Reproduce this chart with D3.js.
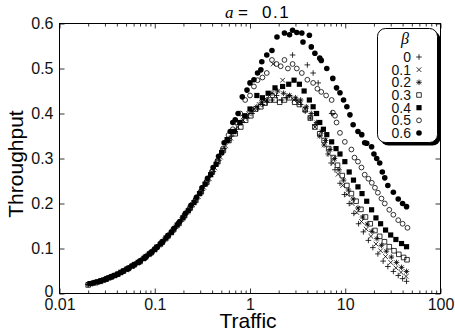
<!DOCTYPE html>
<html>
<head>
<meta charset="utf-8">
<script src="https://cdn.jsdelivr.net/npm/d3@7"></script>
<style>
  html, body { margin: 0; padding: 0; background: #fff; }
  svg { display: block; }
</style>
</head>
<body>
<script>
const WIDTH = 455;
const HEIGHT = 334;

const PLOT_LEFT = 59.5;
const PLOT_RIGHT = 440.5;
const PLOT_TOP = 23.5;
const PLOT_BOTTOM = 293.5;

const FONT = "'Liberation Sans', Arial, Helvetica, sans-serif";
const SERIF = "'Liberation Serif', 'DejaVu Serif', serif";

const MAJOR_TICK = 5;
const MINOR_TICK = 3;

// Legend geometry
const LEGEND_X = 377.5;
const LEGEND_Y = 28.5;
const LEGEND_W = 60;
const LEGEND_H = 114;
const LEGEND_SHADOW = 3;
const LEGEND_ROW0 = 57;
const LEGEND_ROW_GAP = 12.67;

// Data
const BETAS = ["0", "0.1", "0.2", "0.3", "0.4", "0.5", "0.6"];
const X_TICKS = [0.01, 0.1, 1, 10, 100];
const X_TICK_LABELS = ["0.01", "0.1", "1", "10", "100"];
const Y_TICKS = [0, 0.1, 0.2, 0.3, 0.4, 0.5, 0.6];
const Y_TICK_LABELS = ["0", "0.1", "0.2", "0.3", "0.4", "0.5", "0.6"];

// [traffic, throughput]
const BETA_0 = [
    [0.020, 0.020], [0.023, 0.024], [0.027, 0.028], [0.031, 0.033], [0.036, 0.038], [0.042, 0.044],
    [0.048, 0.051], [0.055, 0.058], [0.063, 0.065], [0.072, 0.073], [0.083, 0.083], [0.095, 0.094],
    [0.108, 0.105], [0.124, 0.117], [0.142, 0.131], [0.163, 0.145], [0.186, 0.160], [0.212, 0.176],
    [0.243, 0.192], [0.277, 0.210], [0.316, 0.229], [0.361, 0.250], [0.412, 0.271], [0.47, 0.296],
    [0.535, 0.322], [0.64, 0.350], [0.72, 0.365], [0.82, 0.380], [0.93, 0.390], [1.05, 0.400],
    [1.2, 0.410], [1.35, 0.420], [1.5, 0.425], [1.7, 0.430], [1.9, 0.440], [2.15, 0.430],
    [2.4, 0.435], [2.8, 0.530], [3.1, 0.430], [3.4, 0.420], [4.0, 0.508], [4.6, 0.490],
    [5.2, 0.468], [3.8, 0.405], [4.3, 0.390], [4.8, 0.375], [5.4, 0.350], [6.0, 0.330],
    [6.6, 0.310], [7.2, 0.400], [7.1, 0.290], [7.8, 0.275], [8.8, 0.245], [9.8, 0.220],
    [11, 0.200], [12.3, 0.178], [13.8, 0.155], [15.5, 0.137], [17.5, 0.118], [19.5, 0.102],
    [22, 0.088], [25, 0.072], [28, 0.060], [32, 0.049], [36, 0.040], [40, 0.033], [44, 0.027]
];

const BETA_01 = [
    [0.021, 0.021], [0.024, 0.025], [0.028, 0.029], [0.032, 0.034], [0.037, 0.039], [0.043, 0.045],
    [0.050, 0.053], [0.057, 0.060], [0.065, 0.067], [0.075, 0.076], [0.086, 0.086], [0.098, 0.096],
    [0.112, 0.108], [0.128, 0.120], [0.147, 0.134], [0.168, 0.148], [0.193, 0.164], [0.22, 0.181],
    [0.25, 0.197], [0.287, 0.215], [0.327, 0.236], [0.374, 0.255], [0.427, 0.279], [0.49, 0.303],
    [0.555, 0.328], [0.63, 0.345], [0.74, 0.370], [0.85, 0.385], [0.97, 0.400], [1.1, 0.410],
    [1.25, 0.420], [1.4, 0.430], [1.6, 0.440], [1.75, 0.510], [1.85, 0.440], [2.2, 0.474],
    [2.5, 0.440], [2.9, 0.430], [3.3, 0.425], [3.8, 0.410], [4.3, 0.390], [4.8, 0.370],
    [5.4, 0.350], [6.0, 0.330], [6.7, 0.310], [7.5, 0.290], [8.4, 0.265], [9.4, 0.240],
    [10.5, 0.220], [11.8, 0.200], [13.2, 0.180], [14.8, 0.160], [16.6, 0.143], [18.6, 0.127],
    [21, 0.110], [23.5, 0.095], [26.5, 0.082], [30, 0.069], [34, 0.057], [38.5, 0.047], [43.5, 0.038]
];

const BETA_02 = [
    [0.020, 0.021], [0.022, 0.023], [0.026, 0.027], [0.030, 0.032], [0.034, 0.036], [0.039, 0.042],
    [0.045, 0.048], [0.052, 0.055], [0.059, 0.062], [0.068, 0.070], [0.078, 0.079], [0.089, 0.089],
    [0.102, 0.100], [0.117, 0.112], [0.134, 0.125], [0.153, 0.139], [0.175, 0.154], [0.2, 0.169],
    [0.229, 0.186], [0.262, 0.203], [0.3, 0.222], [0.343, 0.243], [0.392, 0.265], [0.448, 0.289],
    [0.512, 0.315], [0.6, 0.340], [0.7, 0.360], [0.8, 0.380], [0.92, 0.395], [1.05, 0.405],
    [1.18, 0.415], [1.32, 0.425], [1.5, 0.430], [1.7, 0.445], [1.95, 0.450], [2.25, 0.445],
    [2.6, 0.440], [3.0, 0.435], [3.4, 0.430], [3.9, 0.415], [4.4, 0.400], [5.0, 0.380],
    [5.6, 0.360], [6.2, 0.340], [6.9, 0.320], [7.7, 0.300], [8.6, 0.275], [9.6, 0.252],
    [10.8, 0.230], [12.1, 0.210], [13.6, 0.190], [15.2, 0.170], [17, 0.154], [19, 0.138],
    [21.5, 0.122], [24, 0.107], [27, 0.094], [30.5, 0.081], [34.5, 0.069], [39, 0.058], [44, 0.049]
];

const BETA_03 = [
    [0.020, 0.019], [0.024, 0.024], [0.027, 0.027], [0.031, 0.032], [0.035, 0.037], [0.041, 0.043],
    [0.047, 0.050], [0.053, 0.056], [0.061, 0.064], [0.070, 0.071], [0.080, 0.081], [0.092, 0.091],
    [0.105, 0.103], [0.12, 0.114], [0.138, 0.128], [0.158, 0.142], [0.18, 0.156], [0.206, 0.173],
    [0.236, 0.190], [0.27, 0.207], [0.308, 0.226], [0.352, 0.247], [0.402, 0.270], [0.46, 0.293],
    [0.525, 0.318], [0.6, 0.340], [0.7, 0.355], [0.8, 0.370], [0.9, 0.385], [1.02, 0.395],
    [1.15, 0.410], [1.3, 0.415], [1.44, 0.423], [1.62, 0.430], [1.83, 0.430], [2.05, 0.425],
    [2.3, 0.430], [2.6, 0.435], [2.95, 0.425], [3.3, 0.420], [3.8, 0.408], [4.3, 0.390],
    [4.8, 0.370], [5.4, 0.355], [6.0, 0.340], [6.7, 0.322], [7.5, 0.302], [8.3, 0.285],
    [9.3, 0.262], [10.4, 0.240], [11.6, 0.222], [13, 0.205], [14.6, 0.187], [16.3, 0.170],
    [18.3, 0.155], [20.5, 0.140], [23, 0.127], [25.8, 0.115], [29, 0.104], [32.5, 0.095],
    [36.5, 0.087], [41, 0.080], [44.5, 0.075]
];

const BETA_04 = [
    [0.021, 0.022], [0.025, 0.026], [0.029, 0.030], [0.033, 0.035], [0.038, 0.040], [0.044, 0.047],
    [0.051, 0.054], [0.058, 0.061], [0.067, 0.069], [0.077, 0.078], [0.088, 0.088], [0.1, 0.098],
    [0.115, 0.110], [0.131, 0.123], [0.15, 0.136], [0.172, 0.152], [0.197, 0.168], [0.225, 0.184],
    [0.258, 0.202], [0.295, 0.222], [0.337, 0.243], [0.386, 0.264], [0.44, 0.287], [0.503, 0.313],
    [0.575, 0.342], [0.68, 0.360], [0.78, 0.380], [0.88, 0.395], [1.0, 0.410], [1.18, 0.440],
    [1.35, 0.435], [1.55, 0.445], [1.83, 0.457], [2.2, 0.460], [2.55, 0.465], [2.9, 0.474],
    [3.3, 0.465], [3.7, 0.450], [4.2, 0.430], [4.6, 0.415], [5.0, 0.400], [5.4, 0.380],
    [5.9, 0.365], [6.4, 0.353], [7.2, 0.337], [8.0, 0.322], [8.8, 0.310], [9.9, 0.293],
    [11, 0.270], [12.2, 0.252], [13.6, 0.237], [15, 0.222], [16.8, 0.205], [18.9, 0.186],
    [21, 0.168], [23.5, 0.155], [26.5, 0.141], [30, 0.130], [34, 0.120], [39, 0.111], [44, 0.104]
];

const BETA_05 = [
    [0.022, 0.023], [0.026, 0.027], [0.030, 0.031], [0.034, 0.036], [0.039, 0.041], [0.046, 0.049],
    [0.052, 0.055], [0.060, 0.063], [0.069, 0.071], [0.079, 0.080], [0.091, 0.090], [0.104, 0.102],
    [0.119, 0.114], [0.136, 0.127], [0.156, 0.141], [0.178, 0.156], [0.204, 0.172], [0.233, 0.189],
    [0.266, 0.207], [0.304, 0.226], [0.348, 0.248], [0.398, 0.270], [0.455, 0.295], [0.52, 0.322],
    [0.595, 0.352], [0.66, 0.365], [0.73, 0.380], [0.79, 0.400], [0.89, 0.430], [1.0, 0.440],
    [1.1, 0.460], [1.2, 0.474], [1.35, 0.480], [1.5, 0.490], [1.7, 0.519], [1.9, 0.510],
    [2.1, 0.505], [2.3, 0.519], [2.5, 0.500], [2.8, 0.510], [3.1, 0.500], [3.5, 0.490],
    [4.0, 0.475], [4.6, 0.468], [5.1, 0.455], [5.6, 0.448], [6.3, 0.440], [7.2, 0.430],
    [7.4, 0.402], [7.8, 0.395], [8.1, 0.380], [8.8, 0.357], [9.9, 0.337], [11.6, 0.320],
    [12.5, 0.302], [13.6, 0.293], [14.8, 0.280], [16, 0.264], [17.5, 0.255], [19, 0.246],
    [20.5, 0.235], [22, 0.224], [24, 0.211], [26, 0.200], [29, 0.186], [32, 0.175],
    [36, 0.163], [40, 0.155], [45, 0.146]
];

const BETA_06 = [
    [0.023, 0.024], [0.027, 0.028], [0.031, 0.032], [0.036, 0.038], [0.041, 0.043], [0.047, 0.050],
    [0.054, 0.057], [0.062, 0.065], [0.071, 0.073], [0.082, 0.083], [0.094, 0.093], [0.107, 0.104],
    [0.122, 0.116], [0.14, 0.130], [0.16, 0.145], [0.183, 0.160], [0.21, 0.178], [0.24, 0.196],
    [0.274, 0.214], [0.313, 0.235], [0.358, 0.256], [0.41, 0.280], [0.468, 0.305], [0.535, 0.335],
    [0.58, 0.340], [0.62, 0.360], [0.66, 0.380], [0.70, 0.386], [0.75, 0.400], [0.83, 0.437],
    [0.93, 0.452], [1.0, 0.468], [1.1, 0.475], [1.2, 0.490], [1.3, 0.497], [1.33, 0.515],
    [1.5, 0.530], [1.7, 0.540], [1.92, 0.570], [2.3, 0.579], [2.6, 0.575], [2.8, 0.585],
    [3.1, 0.580], [3.5, 0.579], [3.6, 0.559], [4.2, 0.574], [4.4, 0.548], [4.8, 0.534],
    [5.4, 0.523], [5.6, 0.518], [6.4, 0.500], [7.4, 0.478], [8.1, 0.457], [8.8, 0.446],
    [9.6, 0.430], [10.4, 0.415], [11.2, 0.397], [12.1, 0.375], [13.6, 0.360], [14.9, 0.353],
    [16, 0.335], [16.8, 0.334], [18.9, 0.326], [20, 0.310], [21.4, 0.300], [23, 0.290],
    [24.5, 0.270], [26, 0.257], [28, 0.240], [32, 0.225], [36, 0.210], [40, 0.200], [44, 0.193]
];

const SERIES = [BETA_0, BETA_01, BETA_02, BETA_03, BETA_04, BETA_05, BETA_06];
const MARKERS = ["plus", "times", "asterisk", "square", "squareFilled", "circle", "circleFilled"];

function markerPath(kind) {
    switch (kind) {
        case "plus": {
            const r = 2.8;
            return `M${-r},0H${r}M0,${-r}V${r}`;
        }
        case "times": {
            const r = 2.3;
            return `M${-r},${-r}L${r},${r}M${-r},${r}L${r},${-r}`;
        }
        case "asterisk": {
            const r = 2.8, d = 2.0;
            return `M${-r},0H${r}M0,${-r}V${r}M${-d},${-d}L${d},${d}M${-d},${d}L${d},${-d}`;
        }
        case "square": {
            const r = 2.3;
            return `M${-r},${-r}H${r}V${r}H${-r}Z`;
        }
        case "squareFilled": {
            const r = 2.6;
            return `M${-r},${-r}H${r}V${r}H${-r}Z`;
        }
        case "circle": {
            const r = 2.4;
            return `M${r},0A${r},${r},0,1,1,${-r},0A${r},${r},0,1,1,${r},0Z`;
        }
        default: {
            const r = 2.8;
            return `M${r},0A${r},${r},0,1,1,${-r},0A${r},${r},0,1,1,${r},0Z`;
        }
    }
}

function styleMarker(sel, kind) {
    const filled = kind === "squareFilled" || kind === "circleFilled";
    sel.attr("d", markerPath(kind))
        .attr("fill", filled ? "#000" : "none")
        .attr("stroke", filled ? "none" : "#000")
        .attr("stroke-width", 0.8);
}

const svg = d3.select("body").append("svg")
    .attr("width", WIDTH)
    .attr("height", HEIGHT)
    .style("background", "#fff");

const xScale = d3.scaleLog().domain([0.01, 100]).range([PLOT_LEFT, PLOT_RIGHT]);
const yScale = d3.scaleLinear().domain([0, 0.6]).range([PLOT_BOTTOM, PLOT_TOP]);

// Minor ticks for the log axis: 2..9 in each decade
const minorTicks = X_TICKS.slice(0, -1).flatMap(d => d3.range(2, 10).map(k => +(d * k).toPrecision(3)));

function drawAxes() {
    const fmtX = d => X_TICK_LABELS[X_TICKS.indexOf(d)];
    const fmtY = d => Y_TICK_LABELS[Y_TICKS.indexOf(d)];

    const bottom = svg.append("g")
        .attr("transform", `translate(0,${PLOT_BOTTOM})`)
        .call(d3.axisBottom(xScale).tickValues(X_TICKS).tickFormat(fmtX)
            .tickSizeInner(-MAJOR_TICK).tickSizeOuter(0).tickPadding(5));
    bottom.append("g")
        .call(d3.axisBottom(xScale).tickValues(minorTicks).tickFormat("")
            .tickSizeInner(-MINOR_TICK).tickSizeOuter(0));

    const top = svg.append("g")
        .attr("transform", `translate(0,${PLOT_TOP})`)
        .call(d3.axisTop(xScale).tickValues(X_TICKS).tickFormat("")
            .tickSizeInner(-MAJOR_TICK).tickSizeOuter(0));
    top.append("g")
        .call(d3.axisTop(xScale).tickValues(minorTicks).tickFormat("")
            .tickSizeInner(-MINOR_TICK).tickSizeOuter(0));

    const left = svg.append("g")
        .attr("transform", `translate(${PLOT_LEFT},0)`)
        .call(d3.axisLeft(yScale).tickValues(Y_TICKS).tickFormat(fmtY)
            .tickSizeInner(-MAJOR_TICK).tickSizeOuter(0).tickPadding(6));
    // the "0" label sits a touch higher, clear of "0.01"
    left.selectAll("text").filter(d => d === 0).attr("dy", "0.2em");

    const right = svg.append("g")
        .attr("transform", `translate(${PLOT_RIGHT},0)`)
        .call(d3.axisRight(yScale).tickValues(Y_TICKS).tickFormat("")
            .tickSizeInner(-MAJOR_TICK).tickSizeOuter(0));

    for (const g of [bottom, top, left, right]) {
        g.selectAll(".domain").remove();
        g.selectAll("line").attr("stroke", "#000").attr("stroke-width", 0.8);
        g.attr("font-family", FONT).attr("font-size", 16);
        g.selectAll("text").attr("fill", "#111");
    }

    // Frame
    svg.append("rect")
        .attr("x", PLOT_LEFT)
        .attr("y", PLOT_TOP)
        .attr("width", PLOT_RIGHT - PLOT_LEFT)
        .attr("height", PLOT_BOTTOM - PLOT_TOP)
        .attr("fill", "none")
        .attr("stroke", "#000")
        .attr("stroke-width", 1);
}

function drawPoints() {
    SERIES.forEach((rows, idx) => {
        const kind = MARKERS[idx];
        svg.append("g")
            .attr("class", `series beta-${idx}`)
            .selectAll("path")
            .data(rows)
            .join("path")
            .attr("transform", d => `translate(${xScale(d[0])},${yScale(d[1])})`)
            .call(styleMarker, kind);
    });
}

function drawLabels() {
    svg.append("text")
        .attr("x", (PLOT_LEFT + PLOT_RIGHT) / 2 - 2)
        .attr("y", 328)
        .attr("text-anchor", "middle")
        .attr("font-family", FONT)
        .attr("font-size", 21)
        .text("Traffic");

    svg.append("text")
        .attr("transform", "translate(23,164) rotate(-90)")
        .attr("text-anchor", "middle")
        .attr("font-family", FONT)
        .attr("font-size", 21)
        .text("Throughput");

    const title = svg.append("text")
        .attr("y", 18)
        .attr("font-family", FONT)
        .attr("font-size", 17);
    title.append("tspan").attr("x", 225).attr("font-family", SERIF).attr("font-style", "italic").text("a");
    title.append("tspan").attr("x", 238).text("=");
    title.append("tspan").attr("x", 262).attr("letter-spacing", 1.5).text("0.1");
}

function drawLegend() {
    const g = svg.append("g");

    g.append("rect")
        .attr("x", LEGEND_X + LEGEND_SHADOW)
        .attr("y", LEGEND_Y + LEGEND_SHADOW)
        .attr("width", LEGEND_W)
        .attr("height", LEGEND_H)
        .attr("rx", 8)
        .attr("fill", "#000");

    g.append("rect")
        .attr("x", LEGEND_X)
        .attr("y", LEGEND_Y)
        .attr("width", LEGEND_W)
        .attr("height", LEGEND_H)
        .attr("rx", 8)
        .attr("fill", "#fff")
        .attr("stroke", "#000")
        .attr("stroke-width", 1);

    g.append("text")
        .attr("x", 405)
        .attr("y", 44)
        .attr("text-anchor", "middle")
        .attr("font-family", SERIF)
        .attr("font-style", "italic")
        .attr("font-size", 16)
        .text("β");

    const rows = g.selectAll("g.entry")
        .data(BETAS)
        .join("g")
        .attr("class", "entry")
        .attr("transform", (_d, i) => `translate(0,${LEGEND_ROW0 + i * LEGEND_ROW_GAP})`);

    rows.append("text")
        .attr("x", 411)
        .attr("dy", "0.36em")
        .attr("text-anchor", "end")
        .attr("font-family", FONT)
        .attr("font-size", 14)
        .attr("fill", "#111")
        .text(d => d);

    rows.append("path")
        .attr("transform", "translate(419,0)")
        .each(function (_d, i) { d3.select(this).call(styleMarker, MARKERS[i]); });
}

drawAxes();
drawPoints();
drawLabels();
drawLegend();
</script>
</body>
</html>
